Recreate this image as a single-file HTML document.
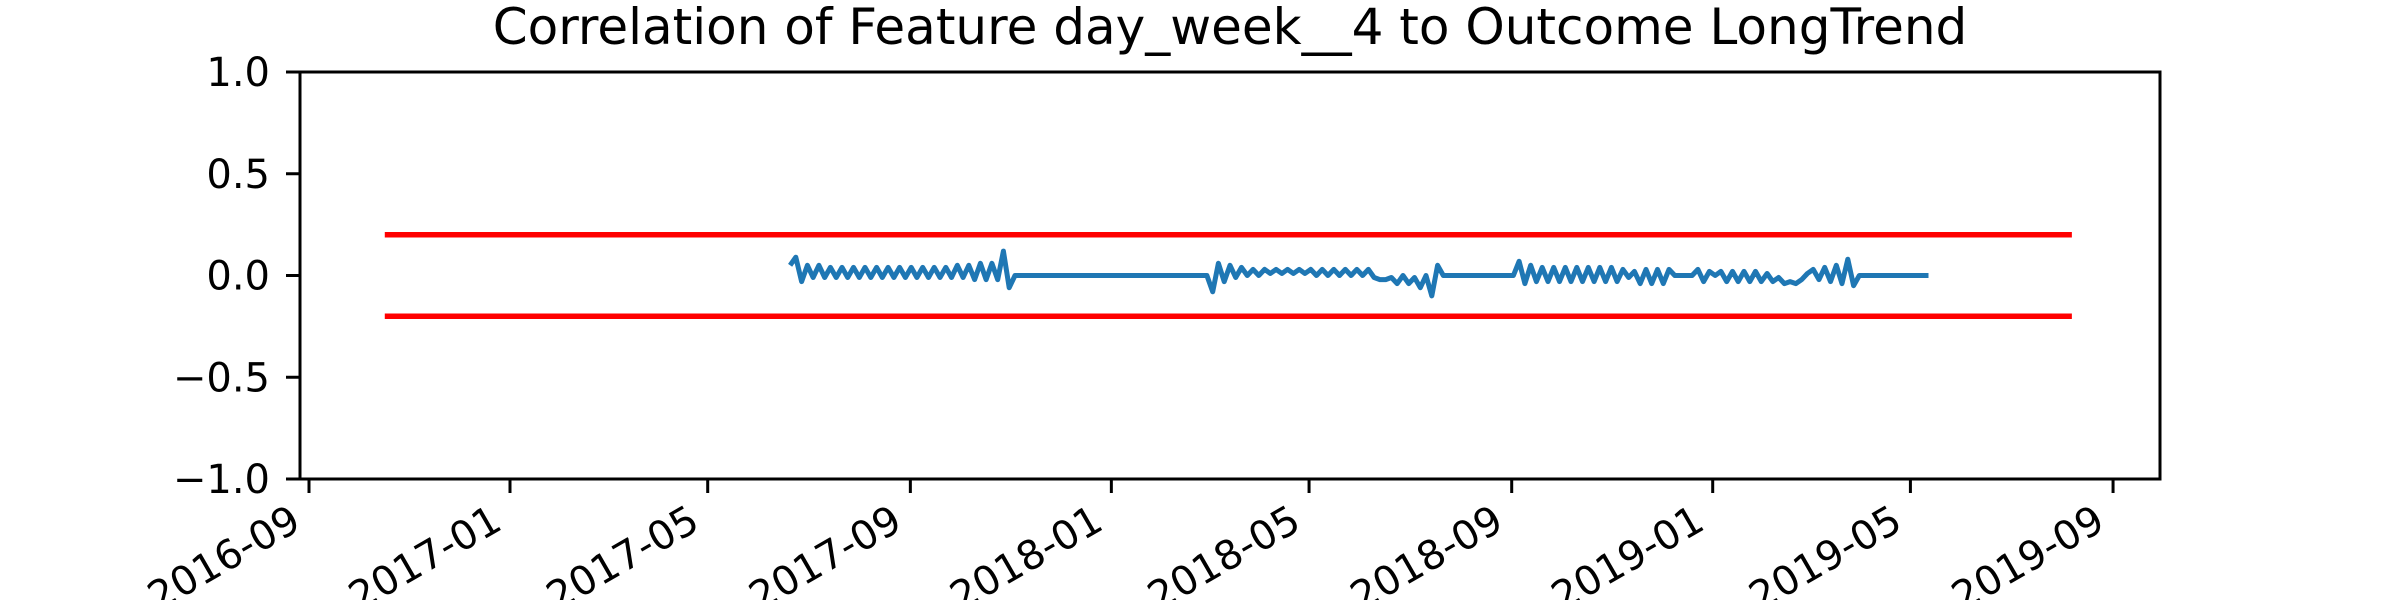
<!DOCTYPE html>
<html><head><meta charset="utf-8"><style>
html,body{margin:0;padding:0;background:#fff;}
svg text{font-family:"DejaVu Sans","Liberation Sans",sans-serif;fill:#000;}
</style></head><body>
<svg id="chart" width="2400" height="600" xmlns="http://www.w3.org/2000/svg">
<rect width="2400" height="600" fill="#fff"/>
<text x="1230" y="44" font-size="50" text-anchor="middle">Correlation of Feature day_week__4 to Outcome LongTrend</text>
<g id="plot"></g>
</svg>
<script>
const xTickLabels = ["2016-09","2017-01","2017-05","2017-09","2018-01","2018-05","2018-09","2019-01","2019-05","2019-09"];
const yTickValues = [-1.0,-0.5,0.0,0.5,1.0];
const yTickLabels = ["\u22121.0","\u22120.5","0.0","0.5","1.0"];
const thresholdValues = [0.2,-0.2];
const thresholdStart = "2016-10-17";
const thresholdEnd = "2019-08-07";
const segStarts = ["2017-06-20","2018-02-28","2018-09-02"];
const seg1Values = [0.05,0.09,-0.03,0.05,-0.01,0.05,-0.01,0.04,-0.01,0.04,-0.01,0.04,-0.01,0.04,-0.01,0.04,-0.01,0.04,-0.01,0.04,-0.01,0.04,-0.01,0.04,-0.01,0.04,-0.01,0.04,-0.01,0.05,-0.01,0.05,-0.02,0.06,-0.02,0.06,-0.02,0.12,-0.06,0.0];
const seg2Values = [0.0,-0.08,0.06,-0.03,0.05,-0.01,0.04,0.0,0.03,0.0,0.03,0.01,0.03,0.01,0.03,0.01,0.03,0.01,0.03,0.0,0.03,0.0,0.03,0.0,0.03,0.0,0.03,0.0,0.03,-0.01,-0.02,-0.02,-0.01,-0.04,0.0,-0.04,-0.01,-0.06,0.0,-0.1,0.05,0.0];
const seg3Values = [0.0,0.07,-0.04,0.05,-0.03,0.04,-0.03,0.04,-0.03,0.04,-0.03,0.04,-0.03,0.04,-0.03,0.04,-0.03,0.04,-0.03,0.03,-0.01,0.02,-0.04,0.03,-0.04,0.03,-0.04,0.03,0.0,0.0,0.0,0.0,0.03,-0.03,0.02,0.0,0.02,-0.03,0.02,-0.03,0.02,-0.03,0.02,-0.03,0.01,-0.03,-0.01,-0.04,-0.03,-0.04,-0.02,0.01,0.03,-0.02,0.04,-0.03,0.05,-0.04,0.08,-0.05,0.0,0.0];
const seriesEnd = ["2019-05-12",0.0];

const NS="http://www.w3.org/2000/svg";
const plot=document.getElementById('plot');
const L=300,R=2160,T=72,B=479;
const day=86400000;
const x0=Date.parse("2016-09-01"), x0px=309, pxPerDay=201/122;
function xs(d){return x0px+(Date.parse(d)-x0)/day*pxPerDay;}
function xsMs(ms){return x0px+(ms-x0)/day*pxPerDay;}
function ys(v){return T+(1-v)/2*(B-T);}
function mk(tag,attrs){const e=document.createElementNS(NS,tag);for(const k in attrs)e.setAttribute(k,attrs[k]);plot.appendChild(e);return e;}

thresholdValues.forEach((v,i)=>{
  const l=mk('line',{x1:xs(thresholdStart),x2:xs(thresholdEnd),y1:ys(v),y2:ys(v),stroke:'#ff0000','stroke-width':5.5});
  
  
});

const pts=[];
[seg1Values,seg2Values,seg3Values].forEach((vals,si)=>{
  const s=Date.parse(segStarts[si]);
  vals.forEach((v,i)=>pts.push([xsMs(s+i*3.5*day),ys(v)]));
});
pts.push([xs(seriesEnd[0]),ys(seriesEnd[1])]);
const pl=mk('polyline',{points:pts.map(p=>p[0].toFixed(1)+','+p[1].toFixed(1)).join(' '),fill:'none',stroke:'#1f77b4','stroke-width':5,'stroke-linejoin':'round'});



const fr=mk('rect',{x:L,y:T,width:R-L,height:B-T,fill:'none',stroke:'#000','stroke-width':3});



yTickValues.forEach((v,i)=>{
  const y=ys(v);
  const t=mk('line',{x1:L-14,x2:L,y1:y,y2:y,stroke:'#000','stroke-width':3});
  
  
  const tx=mk('text',{x:L-30,y:y+14,'font-size':40,'text-anchor':'end'});
  tx.textContent=yTickLabels[i];
  
  
});

xTickLabels.forEach(lbl=>{
  const x=xs(lbl+"-01");
  const t=mk('line',{x1:x,x2:x,y1:B,y2:B+14,stroke:'#000','stroke-width':3});
  
  
  const ax=x-6, ay=B+49;
  const tx=mk('text',{x:ax,y:ay,'font-size':40,'text-anchor':'end',transform:`rotate(-30 ${ax} ${ay})`});
  tx.textContent=lbl;
  
  
});
</script>
</body></html>
